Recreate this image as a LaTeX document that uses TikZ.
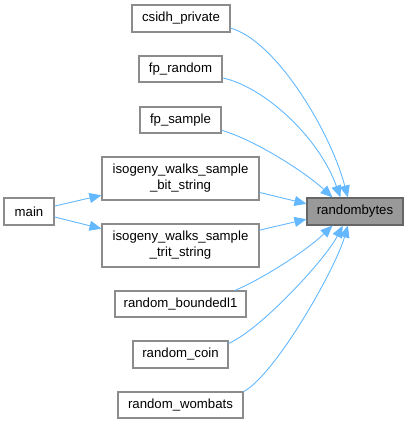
\documentclass[tikz,border=0pt]{standalone}
\usepackage{fontspec}
\setmainfont{Liberation Sans}
\usepackage{xcolor}
\usepackage{tikz}
\usetikzlibrary{arrows.meta}
\definecolor{edgeblue}{HTML}{63B8FF}
\definecolor{boxgray}{HTML}{8C8C8C}
\definecolor{hlgray}{HTML}{999999}
\definecolor{hlborder}{HTML}{666666}

\begin{document}
\begin{tikzpicture}[x=1pt,y=-1pt,
  fn/.style={draw=boxgray,line width=1.1pt,fill=white,inner sep=0pt,align=center,font=\fontsize{13.2}{16}\selectfont},
  hl/.style={fn,draw=hlborder,fill=hlgray},
  call/.style={draw=edgeblue,line width=0.9pt,-{Triangle[length=12pt,width=10pt]}}]
\useasboundingbox (0,0) rectangle (409,424);
\node[fn,minimum width=98pt,minimum height=27pt] (csidh) at (181,18.5) {csidh\_private};
\node[fn,minimum width=83pt,minimum height=26pt] (fprand) at (180.5,69) {fp\_random};
\node[fn,minimum width=81pt,minimum height=26pt] (fpsamp) at (180.5,120) {fp\_sample};
\node[fn,minimum width=157pt,minimum height=43pt] (bitstr) at (180.5,178.5) {isogeny\_walks\_sample\\\_bit\_string};
\node[fn,minimum width=157pt,minimum height=43pt] (tritstr) at (180.5,245.5) {isogeny\_walks\_sample\\\_trit\_string};
\node[fn,minimum width=131pt,minimum height=26pt] (bounded) at (180.5,304) {random\_boundedl1};
\node[fn,minimum width=95pt,minimum height=27pt] (coin) at (180.5,354.5) {random\_coin};
\node[fn,minimum width=125pt,minimum height=26pt] (wombats) at (180.5,405) {random\_wombats};
\node[fn,minimum width=50pt,minimum height=27pt] (main) at (29,211.5) {main};
\node[hl,minimum width=96pt,minimum height=27pt] (rb) at (355,211.5) {randombytes};
% callers of randombytes
\draw[call] (csidh.-11) .. controls (275,40) and (330,130) .. (rb.117);
\draw[call] (fprand.-12) .. controls (262,86) and (318,135) .. (rb.136);
\draw[call] (fpsamp.-14) .. controls (255,140) and (305,172) .. (rb.148);
\draw[call] (bitstr.-10.5) -- (rb.171);
\draw[call] (tritstr.11) -- (rb.-171);
\draw[call] (bounded.14) .. controls (260,280) and (305,252) .. (rb.-148);
\draw[call] (coin.13.6) .. controls (260,330) and (325,260) .. (rb.-131.6);
\draw[call] (wombats.12.3) .. controls (275,375) and (335,270) .. (rb.-117);
% main
\draw[call] (main.12.4) -- (bitstr.-168.8);
\draw[call] (main.-12.4) -- (tritstr.168);
\end{tikzpicture}
\end{document}
